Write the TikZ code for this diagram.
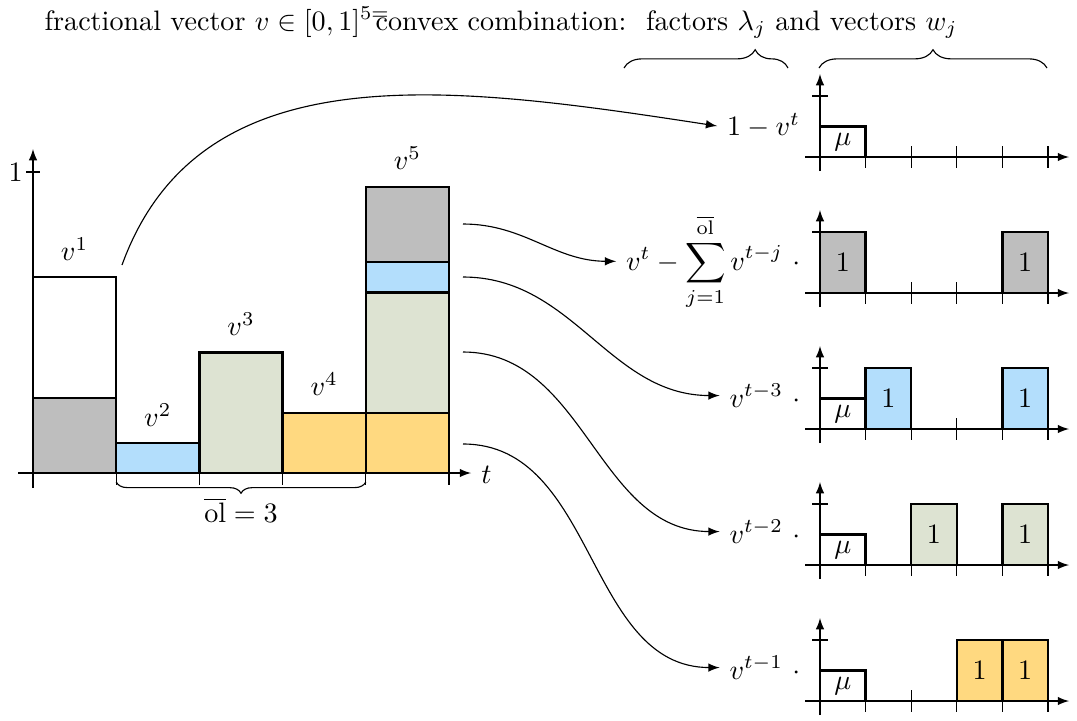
\documentclass[tikz,border=0pt]{standalone}
\usetikzlibrary{decorations.pathreplacing,arrows.meta}
\definecolor{cgray}{RGB}{190,190,190}
\definecolor{cblue}{RGB}{179,222,252}
\definecolor{cgreen}{RGB}{221,227,210}
\definecolor{cyellow}{RGB}{255,217,128}
\tikzset{
  bar/.style={draw=black, thick},
  axisline/.style={-latex},
  conn/.style={-latex},
  barlbl/.style={inner sep=1pt},
  ttl/.style={anchor=base west, inner sep=0},
  bracedeco/.style={decorate, decoration={brace, amplitude=#1}},
}
\newcommand{\rsChartAxes}{%
  \draw[axisline] (-15,0) -- (249,0);
  \draw[axisline] (0,14) -- (0,-83);
  \foreach \k in {1,...,5} \draw ({\k*45.6},-11) -- ({\k*45.6},11);
  \draw (-8,-61) -- (8,-61);
}
\begin{document}
\begin{tikzpicture}[x=0.0125cm,y=-0.0125cm]
\useasboundingbox (0,0) rectangle (1077,720);

% title
\node[ttl] (ttl1) at (44,30) {fractional vector $v \in [0,1]^{5=}$};
\node[ttl] (ttl2) at (375,30) {convex combination:\hspace{7pt}factors $\lambda_j$ and vectors $w_j$};
\draw[bracedeco=6.5pt, decoration={aspect=0.8}] (624,68) -- (788,68);
\draw[bracedeco=6.5pt] (819,68) -- (1047,68);

% left chart axes
\draw[axisline] (18,473) -- (471,473);
\draw[axisline] (33,488) -- (33,149);
\foreach \x in {116.2,199.4,282.6,365.8,449} \draw (\x,461) -- (\x,485);
\draw (26,172) -- (40,172);
\node[anchor=east, inner sep=1pt] (one) at (26,172) {$1$};
\node[anchor=west, inner sep=1pt] (tlab) at (478,475) {$t$};

% bars
\draw[bar,fill=white] (33,473) rectangle (116.2,277.35);
\draw[bar,fill=cgray] (33,473) rectangle (116.2,397.75);
\draw[bar,fill=cblue] (116.2,473) rectangle (199.4,442.9);
\draw[bar,fill=cgreen] (199.4,473) rectangle (282.6,352.6);
\draw[bar,fill=cyellow] (282.6,473) rectangle (365.8,412.8);
\draw[bar,fill=cyellow] (365.8,473) rectangle (449,412.8);
\draw[bar,fill=cgreen] (365.8,412.8) rectangle (449,292.4);
\draw[bar,fill=cblue] (365.8,292.4) rectangle (449,262.3);
\draw[bar,fill=cgray] (365.8,262.3) rectangle (449,187.05);

\node[barlbl] (lv1) at (74.6,249) {$v^1$};
\node[barlbl] (lv2) at (157.8,415) {$v^2$};
\node[barlbl] (lv3) at (241,324.5) {$v^3$};
\node[barlbl] (lv4) at (324.2,384.5) {$v^4$};
\node[barlbl] (lv5) at (407.4,158.5) {$v^5$};

\draw[bracedeco=4pt, decoration={mirror}] (116.2,482) -- (365.8,482);
\node (olab) at (241,510) {$\overline{\mathrm{ol}} = 3$};

% right charts
\begin{scope}[shift={(820,157)}]
  \rsChartAxes
  \draw[bar,fill=white] (0,0) rectangle (45.6,-30.5);
  \node (c1m) at (22.8,-15.25) {$\mu$};
\end{scope}
\begin{scope}[shift={(820,293)}]
  \rsChartAxes
  \draw[bar,fill=cgray] (0,0) rectangle (45.6,-61);
  \draw[bar,fill=cgray] (182.4,0) rectangle (228,-61);
  \node (c2a) at (22.8,-30.5) {$1$};
  \node (c2b) at (205.2,-30.5) {$1$};
\end{scope}
\begin{scope}[shift={(820,429)}]
  \rsChartAxes
  \draw[bar,fill=white] (0,0) rectangle (45.6,-30.5);
  \draw[bar,fill=cblue] (45.6,0) rectangle (91.2,-61);
  \draw[bar,fill=cblue] (182.4,0) rectangle (228,-61);
  \node (c3m) at (22.8,-15.25) {$\mu$};
  \node (c3a) at (68.4,-30.5) {$1$};
  \node (c3b) at (205.2,-30.5) {$1$};
\end{scope}
\begin{scope}[shift={(820,565)}]
  \rsChartAxes
  \draw[bar,fill=white] (0,0) rectangle (45.6,-30.5);
  \draw[bar,fill=cgreen] (91.2,0) rectangle (136.8,-61);
  \draw[bar,fill=cgreen] (182.4,0) rectangle (228,-61);
  \node (c4m) at (22.8,-15.25) {$\mu$};
  \node (c4a) at (114,-30.5) {$1$};
  \node (c4b) at (205.2,-30.5) {$1$};
\end{scope}
\begin{scope}[shift={(820,701)}]
  \rsChartAxes
  \draw[bar,fill=white] (0,0) rectangle (45.6,-30.5);
  \draw[bar,fill=cyellow] (136.8,0) rectangle (182.4,-61);
  \draw[bar,fill=cyellow] (182.4,0) rectangle (228,-61);
  \node (c5m) at (22.8,-15.25) {$\mu$};
  \node (c5a) at (159.6,-30.5) {$1$};
  \node (c5b) at (205.2,-30.5) {$1$};
\end{scope}

% right labels
\node[anchor=east] (L1) at (810,126) {$1 - v^t$};
\node[anchor=base east] (L2) at (810,270) {$v^t - \displaystyle\sum_{j=1}^{\overline{\mathrm{ol}}} v^{t-j}\ \cdot$};
\node[anchor=base east] (L3) at (810,407) {$v^{t-3}\ \cdot$};
\node[anchor=base east] (L4) at (810,543) {$v^{t-2}\ \cdot$};
\node[anchor=base east] (L5) at (810,679) {$v^{t-1}\ \cdot$};

% connectors
\coordinate (s0) at (122,265);
\coordinate (s1) at (463,224);
\coordinate (s2) at (463,277);
\coordinate (s3) at (463,352);
\coordinate (s4) at (463,444);
\draw[conn] (s0) .. controls (200,50) and (450,85) .. (L1.west);
\draw[conn] (s1) to[out=0,in=180] (L2.west);
\draw[conn] (s2) to[out=0,in=180] (L3.west);
\draw[conn] (s3) to[out=0,in=180] (L4.west);
\draw[conn] (s4) to[out=0,in=180] (L5.west);
\end{tikzpicture}
\end{document}
